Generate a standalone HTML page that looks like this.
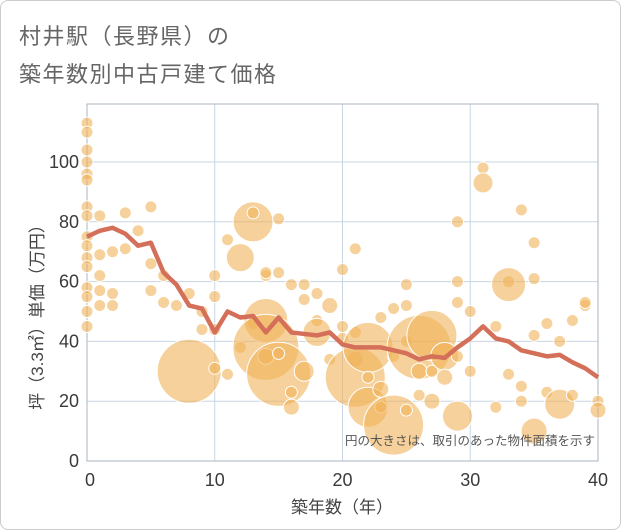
<!DOCTYPE html>
<html><head><meta charset="utf-8"><style>
body{margin:0;background:#fff}
#wrap{position:relative;width:619px;height:528px;border:1px solid #ccc;border-radius:8px;overflow:hidden;font-family:"Liberation Sans","Noto Sans CJK JP",sans-serif}
.t{position:absolute;left:18px;color:#666;font-size:22px;letter-spacing:1.5px}
</style></head><body>
<div id="wrap">
<div class="t" style="top:18px">村井駅（長野県）の</div>
<div class="t" style="top:56px">築年数別中古戸建て価格</div>
<svg id="svg" width="621" height="530" style="position:absolute;left:0;top:0"></svg>
</div>
<script>
const xTicks=[0,10,20,30,40];
const yTicks=[0,20,40,60,80,100];
const avgYears=[0,1,2,3,4,5,6,7,8,9,10,11,12,13,14,15,16,17,18,19,20,21,22,23,24,25,26,27,28,29,30,31,32,33,34,35,36,37,38,39,40];
const avgPrice=[75,77,78,76,72,73,63,59,52,51,43,50,48,48.5,43,48,43,42.5,42,43,39,38,38,38,37,36,34,35,34.5,38,41,45,41,40,37,36,35,35.5,33,31,28];
const bubX=[0,0,0,0,0,0,0,0,0,0,0,0,0,0,0,0,1,1,1,1,1,2,2,2,3,3,4,5,5,5,6,6,7,8,8,9,9,10,10,10,10,11,11,12,12,13,13,13,14,14,14,14,14,15,15,15,15,16,16,16,17,17,17,18,18,18,19,19,20,20,20,21,21,21,21,22,22,22,23,23,23,24,24,24,25,25,25,25,26,26,26,27,27,27,28,28,29,29,29,29,29,30,30,31,31,32,32,33,33,33,34,34,34,35,35,35,35,36,36,37,37,38,38,39,39,40,40];
const bubY=[113,110,104,100,96,94,85,82,75,72,68,65,58,55,50,45,82,69,62,57,52,70,56,52,83,71,77,85,66,57,62,53,52,56,30,50,44,31,62,44,55,29,74,38,68,80,83,46,47,38,35,62,63,29,36,63,81,23,18,59,54,30,59,56,47,43,52,34,45,41,64,34,28,71,43,38,28,18,48,24,18,12,35,51,17,52,59,40,38,30,22,42,30,20,35,28,80,60,53,15,35,50,30,98,93,45,18,60,59,29,84,25,20,73,61,42,10,23,46,19,40,22,47,52,53,20,17];
const bubR=[6,6,6,6,6,6,6,6,6,6,6,6,6,6,6,6,6,6,6,6,6,6,6,6,6,6,6,6,6,6,6,6,6,6,32,6,6,6,6,6,6,6,6,6,14,20,6,6,22,33,8,6,6,32,6,6,6,6,8,6,6,10,6,6,6,14,8,6,6,6,6,8,30,6,6,25,6,20,6,8,6,30,6,6,6,6,6,6,32,8,6,25,6,8,14,8,6,6,6,15,6,6,6,6,10,6,6,6,17,6,6,6,6,6,6,6,13,6,6,15,6,6,6,6,6,6,8];
const X0=86,X1=597,Y0=460,Y1=103;
const sx=v=>X0+(v-0)/40*(X1-X0);
const sy=v=>Y0-v/100*(Y0-161);
const svg=document.getElementById('svg');
const NS='http://www.w3.org/2000/svg';
function mk(t,a){const e=document.createElementNS(NS,t);for(const k in a)e.setAttribute(k,a[k]);svg.appendChild(e);return e;}
xTicks.forEach(v=>{
 const g=mk('line',{x1:sx(v),x2:sx(v),y1:Y1,y2:Y0,stroke:'#c9d5e3','stroke-width':1});
 
 
 const t=mk('text',{x:sx(v)+(v===0?3:0),y:Y0+25,'text-anchor':'middle','font-size':18,fill:'#3a3a3a'});
 t.textContent=v;
 
 
});
yTicks.forEach(v=>{
 const g=mk('line',{x1:X0,x2:X1,y1:sy(v),y2:sy(v),stroke:'#c9d5e3','stroke-width':1});
 
 
 const t=mk('text',{x:X0-8,y:sy(v)+6,'text-anchor':'end','font-size':18,fill:'#3a3a3a'});
 t.textContent=v;
 
 
});
const fr=mk('rect',{x:X0,y:Y1,width:X1-X0,height:Y0-Y1,fill:'none',stroke:'#a8b4c0','stroke-width':1});


bubX.forEach((v,i)=>{
 const c=mk('circle',{cx:sx(v),cy:sy(bubY[i]),r:bubR[i],fill:'rgba(240,178,88,0.6)',stroke:'#fff','stroke-width':1});
 
 
});
const pl=mk('polyline',{points:avgYears.map((v,i)=>sx(v)+','+sy(avgPrice[i])).join(' '),fill:'none',stroke:'#d4705a','stroke-width':4.5,'stroke-linejoin':'round'});


const an=mk('text',{x:594,y:444,'text-anchor':'end','font-size':12.5,fill:'#555'});
an.textContent='円の大きさは、取引のあった物件面積を示す';


const xt=mk('text',{x:341,y:512,'text-anchor':'middle','font-size':17,fill:'#444'});
xt.textContent='築年数（年）';


const yt=mk('text',{x:0,y:0,'text-anchor':'middle','font-size':17,fill:'#444',transform:'translate(42,312) rotate(-90)'});
yt.textContent='坪（3.3㎡）単価（万円）';


</script>
</body></html>
